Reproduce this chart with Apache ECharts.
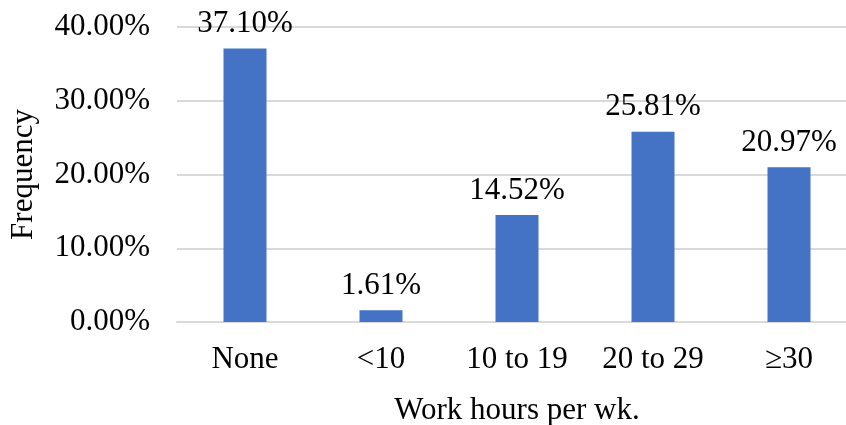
<!DOCTYPE html>
<html>
<head>
<meta charset="utf-8">
<script src="https://cdn.jsdelivr.net/npm/echarts@6/dist/echarts.min.js"></script>
<style>
  html, body { margin: 0; padding: 0; background: #fff; overflow: hidden; }
  #chart { width: 846px; height: 425px; }
</style>
</head>
<body>
<div id="chart"></div>
<script>
// work hours categories and share of respondents (percent)
const categories = ['None', '<10', '10 to 19', '20 to 29', '\u226530'];
const frequency = [37.10, 1.61, 14.52, 25.81, 20.97];
const yTicks = { min: 0, max: 40, step: 10 };

const font = '"Liberation Serif", "Times New Roman", serif';

const chart = echarts.init(document.getElementById('chart'));
chart.setOption({
  animation: false,
  // plot runs a little past the right edge, as in the source image
  grid: { left: 177, width: 680, top: 27, bottom: 103, outerBoundsMode: 'none' },
  xAxis: {
    type: 'category',
    data: categories,
    name: 'Work hours per wk.',
    nameLocation: 'middle',
    nameGap: 73,
    nameTextStyle: { color: '#000', fontFamily: font, fontSize: 31 },
    axisLine: { lineStyle: { color: '#d9d9d9', width: 2 } },
    axisTick: { show: false },
    axisLabel: { color: '#000', fontFamily: font, fontSize: 31, margin: 22 }
  },
  yAxis: {
    type: 'value',
    min: yTicks.min,
    max: yTicks.max,
    interval: yTicks.step,
    name: 'Frequency',
    nameLocation: 'middle',
    nameGap: 138,
    nameTextStyle: { color: '#000', fontFamily: font, fontSize: 31 },
    axisLine: { show: false },
    axisTick: { show: false },
    splitLine: { lineStyle: { color: '#d9d9d9', width: 2 } },
    axisLabel: {
      color: '#000', fontFamily: font, fontSize: 31, margin: 27,
      formatter: v => v.toFixed(2) + '%'
    }
  },
  series: [{
    type: 'bar',
    data: frequency,
    barWidth: 43,
    itemStyle: { color: '#4472c4' },
    label: {
      show: true,
      position: 'top',
      distance: 9,
      color: '#000',
      fontFamily: font,
      fontSize: 31,
      formatter: p => p.value.toFixed(2) + '%'
    }
  }]
});
</script>
</body>
</html>
